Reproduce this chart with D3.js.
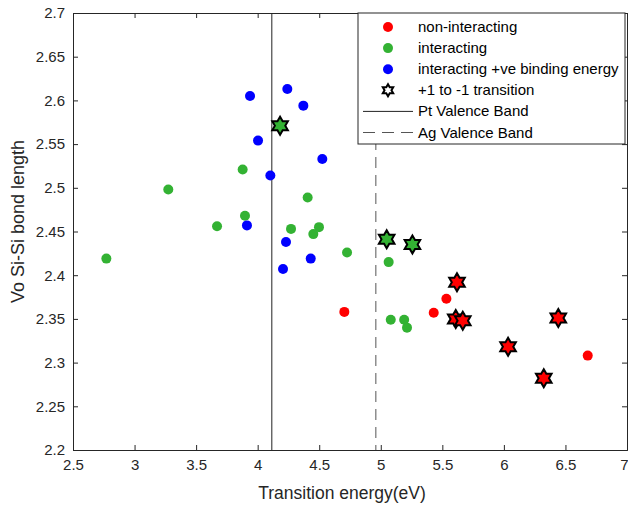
<!DOCTYPE html>
<html><head><meta charset="utf-8">
<script src="https://cdn.jsdelivr.net/npm/d3@7"></script>
<style>body{margin:0;background:#fff}svg{display:block}</style>
</head><body><svg id="c" width="628" height="508"></svg>
<script>
const xTicks = [2.5,3,3.5,4,4.5,5,5.5,6,6.5,7];
const yTicks = [2.2,2.25,2.3,2.35,2.4,2.45,2.5,2.55,2.6,2.65,2.7];
const redX = [5.533,4.704,5.430,6.681];
const redY = [2.373,2.358,2.357,2.308];
const greenX = [3.878,3.274,4.406,3.897,3.670,4.271,4.498,4.452,4.726,2.771,5.064,5.081,5.190,5.213];
const greenY = [2.521,2.498,2.489,2.468,2.456,2.453,2.455,2.447,2.426,2.419,2.415,2.349,2.349,2.340];
const blueX = [3.938,4.241,4.371,4.003,4.525,4.103,3.913,4.230,4.431,4.206];
const blueY = [2.605,2.613,2.594,2.554,2.533,2.514,2.457,2.438,2.419,2.407];
const redStarX = [5.619,5.609,5.666,6.442,6.034,6.324];
const redStarY = [2.392,2.350,2.348,2.351,2.318,2.282];
const greenStarX = [4.182,5.048,5.257];
const greenStarY = [2.571,2.441,2.435];
const ptBand = 4.115, agBand = 4.96;
const legendLabels = ["non-interacting","interacting","interacting +ve binding energy","+1 to -1 transition","Pt Valence Band","Ag Valence Band"];

const C = {red:"#ff0000", green:"#33b233", blue:"#0000ff", axis:"#262626"};
const svg = d3.select("#c");
const m = {l:73, t:13, r:1, b:58};
const W = 628 - m.l - m.r, H = 508 - m.t - m.b;
const x = d3.scaleLinear().domain([2.5,7]).range([m.l, m.l+W]);
const y = d3.scaleLinear().domain([2.2,2.7]).range([m.t+H, m.t]);
const font = "'Liberation Sans', Arial, sans-serif";

function hexPath(R){
  const r = R/Math.sqrt(3); const pts=[];
  for(let k=0;k<12;k++){const a=(-90+k*30)*Math.PI/180; const rr=k%2?r:R; pts.push([rr*Math.cos(a), rr*Math.sin(a)]);}
  return "M"+pts.map(p=>p[0].toFixed(2)+","+p[1].toFixed(2)).join("L")+"Z";
}

const fmt = d => d3.format("")(+d.toFixed(2));
const gx = svg.append("g").attr("transform",`translate(0,${m.t+H})`)
  .call(d3.axisBottom(x).tickValues(xTicks).tickSize(-5).tickPadding(9).tickFormat(fmt));
const gy = svg.append("g").attr("transform",`translate(${m.l},0)`)
  .call(d3.axisLeft(y).tickValues(yTicks).tickSize(-5).tickPadding(8).tickFormat(fmt));
const gxt = svg.append("g").attr("transform",`translate(0,${m.t})`)
  .call(d3.axisTop(x).tickValues(xTicks).tickSize(-5).tickFormat(""));
const gyr = svg.append("g").attr("transform",`translate(${m.l+W},0)`)
  .call(d3.axisRight(y).tickValues(yTicks).tickSize(-5).tickFormat(""));
[gx,gy,gxt,gyr].forEach(g=>{
  g.select(".domain").attr("stroke",C.axis).attr("stroke-width",1);
  g.selectAll(".tick line").attr("stroke",C.axis);
  g.selectAll("text").attr("fill",C.axis).style("font-family",font).style("font-size","15px");
});
gx.selectAll(".tick text").filter(d=>d===7).attr("text-anchor","end").attr("dx","1");
svg.append("text").attr("x",m.l+W/2-8).attr("y",499).attr("text-anchor","middle")
  .style("font-family",font).style("font-size","17.5px").attr("fill",C.axis).text("Transition energy(eV)");
svg.append("text").attr("transform",`translate(24,${m.t+H/2-10}) rotate(-90)`).attr("text-anchor","middle")
  .style("font-family",font).style("font-size","18px").attr("fill",C.axis).text("Vo Si-Si bond length");

svg.append("line").attr("x1",x(ptBand)).attr("x2",x(ptBand)).attr("y1",m.t).attr("y2",m.t+H)
  .attr("stroke","#222").attr("stroke-width",1);
svg.append("line").attr("x1",x(agBand)).attr("x2",x(agBand)).attr("y1",m.t).attr("y2",m.t+H)
  .attr("stroke","#555").attr("stroke-width",1).attr("stroke-dasharray","11,7");

function circles(xs,ys,col){
  svg.append("g").selectAll("circle").data(xs.map((v,i)=>[v,ys[i]])).join("circle")
    .attr("cx",d=>x(d[0])).attr("cy",d=>y(d[1])).attr("r",5).attr("fill",col);
}
circles(greenX,greenY,C.green);
circles(blueX,blueY,C.blue);
circles(redX,redY,C.red);
function stars(xs,ys,col){
  svg.append("g").selectAll("path").data(xs.map((v,i)=>[v,ys[i]])).join("path")
    .attr("d",hexPath(9)).attr("transform",d=>`translate(${x(d[0])},${y(d[1])})`)
    .attr("fill",col).attr("stroke","#000").attr("stroke-width",2).attr("stroke-linejoin","miter");
}
stars(greenStarX,greenStarY,C.green);
stars(redStarX,redStarY,C.red);

const lg = svg.append("g");
lg.append("rect").attr("x",358).attr("y",m.t).attr("width",267).attr("height",131)
  .attr("fill","#fff").attr("stroke",C.axis).attr("stroke-width",1);
const rowY = i => 27 + i*21.1;
legendLabels.forEach((t,i)=>{
  lg.append("text").attr("x",418).attr("y",rowY(i)+5).style("font-family",font).style("font-size","15px")
    .attr("fill","#000").text(t);
});
[C.red,C.green,C.blue].forEach((c,i)=>lg.append("circle").attr("cx",388).attr("cy",rowY(i)).attr("r",5).attr("fill",c));
lg.append("path").attr("d",hexPath(6)).attr("transform",`translate(388,${rowY(3)})`)
  .attr("fill","#fff").attr("stroke","#000").attr("stroke-width",2);
lg.append("line").attr("x1",363).attr("x2",413).attr("y1",rowY(4)).attr("y2",rowY(4)).attr("stroke","#222");
lg.append("line").attr("x1",363).attr("x2",413).attr("y1",rowY(5)).attr("y2",rowY(5)).attr("stroke","#555").attr("stroke-dasharray","12,7");
</script></body></html>
